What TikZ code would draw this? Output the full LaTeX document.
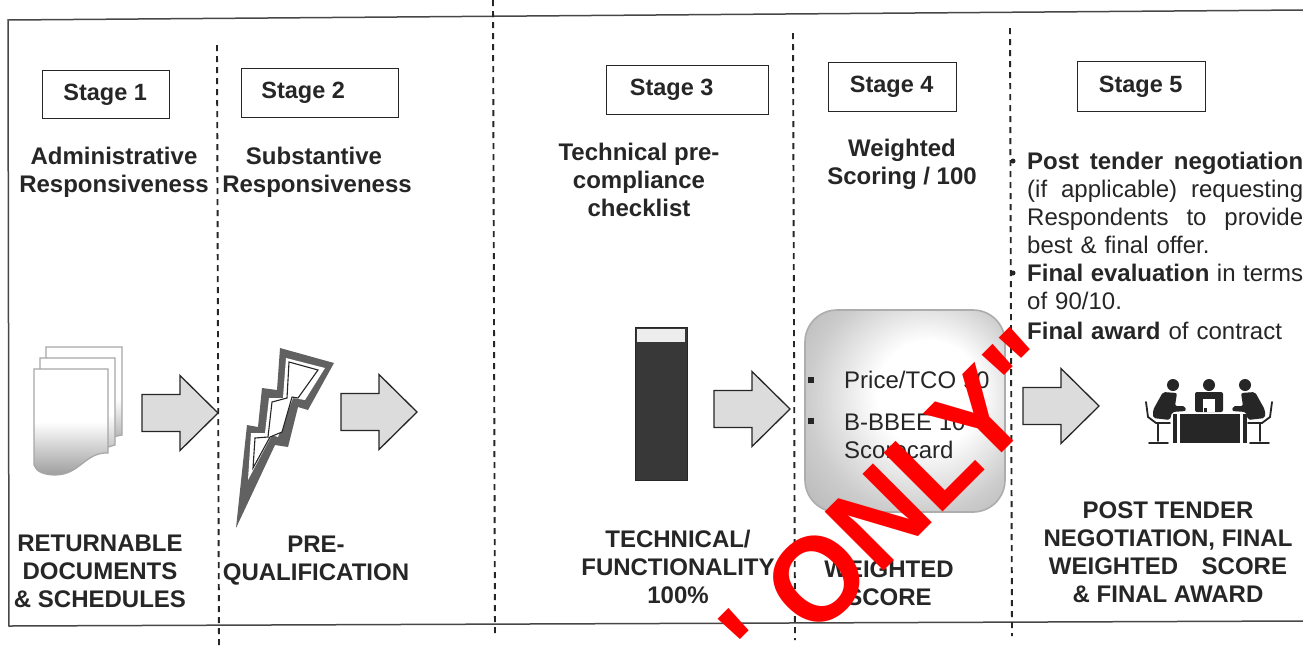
\documentclass[tikz,border=0pt]{standalone}
\usepackage{graphicx}
\usepackage{fontspec}
\setmainfont{Liberation Sans}
\newfontfamily\stampfont{Liberation Sans}
\definecolor{ink}{HTML}{262626}
\definecolor{arrowfill}{HTML}{DCDCDC}
\pgfdeclareradialshading{softbox}{\pgfpoint{8bp}{6bp}}{color(0bp)=(white); color(13bp)=(white); color(28bp)=(black!20); color(40bp)=(black!30); color(50bp)=(black!38)}
\tikzset{
  x=1pt,y=-1pt,
  framing/.style={draw=ink!85,line width=1.5pt},
  divider/.style={draw=ink,line width=1.9pt,dash pattern=on 6pt off 5pt},
  stagebox/.style={draw=ink,line width=1.4pt,fill=white,inner sep=0pt,font=\bfseries\fontsize{23.5}{28}\selectfont,text=ink,anchor=north west},
  head/.style={align=center,inner sep=0pt,font=\bfseries\fontsize{24}{28}\selectfont,text=ink},
  body/.style={inner sep=0pt,font=\fontsize{24}{28}\selectfont,text=ink},
  blockarrow/.style={draw=ink,line width=1.3pt,fill=arrowfill,line join=miter},
  page/.style={draw=black!35,line width=1.2pt,top color=white,bottom color=black!38,middle color=white},
  icon/.style={fill=ink,draw=none},
  chair/.style={draw=ink,line width=1.8pt,line cap=round},
  seal/.style={text=red,font=\stampfont\bfseries\fontsize{121}{121}\selectfont,inner sep=0pt}
}
\newcommand{\blockarrowat}[2]{% left x, tip y
  \draw[blockarrow] (#1,#2-18.5) -- (#1+38,#2-18.5) -- (#1+38,#2-37.5) -- (#1+76,#2) -- (#1+38,#2+37.5) -- (#1+38,#2+18.5) -- (#1,#2+18.5) -- cycle;}
\newcommand{\fullline}[1]{\makebox[276pt]{#1}}
\begin{document}
\begin{tikzpicture}
\useasboundingbox (0,0) rectangle (1303,649);
\fill[white] (0,0) rectangle (1303,649);
% frame
\draw[framing] (1303,10) -- (8,20) -- (9,626) -- (1303,621);
% stage boxes
\node[stagebox,minimum width=127pt,minimum height=48pt] (s1) at (42,70) {\raisebox{-2pt}{\hspace*{-2pt}Stage 1}};
\node[stagebox,minimum width=157pt,minimum height=49pt] (s2) at (241,68) {\raisebox{-2pt}{\hspace*{-34pt}Stage 2}};
\node[stagebox,minimum width=162pt,minimum height=49pt] (s3) at (606,65) {\raisebox{-2pt}{\hspace*{-32pt}Stage 3}};
\node[stagebox,minimum width=128pt,minimum height=49pt] (s4) at (828,62) {\raisebox{-2pt}{\hspace*{-2pt}Stage 4}};
\node[stagebox,minimum width=128pt,minimum height=50pt] (s5) at (1077,61) {\raisebox{-2pt}{\hspace*{-2pt}Stage 5}};
% headings
\node[head] (h1) at (114,172) {Administrative\\Responsiveness};
\node[head] (h2) at (317,172) {\hspace*{-6pt}Substantive\\Responsiveness};
\node[head] (h3) at (639,180) {Technical pre-\\compliance\\checklist};
\node[head] (h4) at (902,164) {Weighted\\Scoring / 100};
% stage 5 text
\node[body,anchor=north west,text width=276pt,align=left] (t5) at (1027,152) {%
  \fullline{\bfseries Post\hfill tender\hfill negotiation}\\
  \fullline{(if\hfill applicable)\hfill requesting}\\
  \fullline{Respondents\hfill to\hfill provide}\\
  best \& final offer.\\
  \fullline{{\bfseries Final\hfill evaluation}\hfill in\hfill terms}\\
  of 90/10.\\[2pt]
  {\bfseries Final award} of contract};
\fill[ink] (1013,161) circle (2.5);
\fill[ink] (1013,273) circle (2.5);
% documents icon
\draw[page] (46,347) -- (122,347) -- (122,435) .. controls (105,438) and (90,445) .. (70,450) -- (46,450) -- cycle;
\draw[page] (40,358) -- (115,358) -- (115,445) .. controls (95,450) and (75,465) .. (50,470) -- (40,460) -- cycle;
\draw[page] (34,369) -- (108,369) -- (108,453) .. controls (85,452) and (80,475) .. (55,475) .. controls (45,475) and (36,472) .. (34,465) -- cycle;
% lightning icon
\fill[black!62] (236,528) -- (247,425) -- (258,427) -- (262,388) -- (277,390) -- (280,348) -- (334,363) -- (308,410) -- (298,407) -- (288,447) -- (275,445) -- cycle;
\fill[white] (248,480) -- (251,433) -- (265,433) -- (269,398) -- (283,398) -- (286,358) -- (325,368) -- (305,400) -- (293,398) -- (278,437) -- (272,435) -- cycle;
\draw[ink,line width=1.1pt,fill=white] (253,468) -- (255,438) -- (268,437) -- (272,402) -- (287,398) -- (289,362) -- (318,370) -- (298,398) -- (292,397) -- (282,432) -- (270,437) -- cycle;
% technical bar
\fill[black!78,draw=ink,line width=1pt] (635,327) rectangle (687,480);
\fill[black!7] (637,329) rectangle (685,342);
% rounded score box
\draw[draw=black!32,line width=1.6pt,rounded corners=32pt,shading=softbox] (805,310) rectangle (1005,512);
\fill[ink] (808,377) rectangle (814,383);
\fill[ink] (808,418) rectangle (814,424);
\node[body,anchor=base west] (p1) at (844,388) {Price/TCO 90};
\node[body,anchor=base west] (p2) at (844,430) {B-BBEE 10};
\node[body,anchor=base west] (p3) at (844,458) {Scorecard};
% block arrows
\blockarrowat{142}{413}
\blockarrowat{341}{412}
\blockarrowat{714}{409}
\blockarrowat{1023}{406}
% meeting icon
\fill[icon] (1180,414) rectangle (1240,443);
\fill[icon] (1173,414) rectangle (1177,443);
\fill[icon] (1243,414) rectangle (1247,443);
\fill[icon] (1173,385) circle (6);
\fill[icon] (1209,385) circle (6);
\fill[icon] (1245,385) circle (6);
\fill[icon,rounded corners=2pt] (1195,392) rectangle (1223,412);
\fill[white] (1203,399) rectangle (1215,412);
\fill[icon] (1204,408) rectangle (1207,412);
\fill[icon,rounded corners=2pt] (1163,392) -- (1177,393) -- (1175,406) -- (1185,406) -- (1186,411) -- (1172,412) -- (1170,420) -- (1153,418) -- (1153,410) -- cycle;
\fill[icon,rounded corners=2pt] (1255,392) -- (1241,393) -- (1243,406) -- (1233,406) -- (1232,411) -- (1246,412) -- (1248,420) -- (1265,418) -- (1265,410) -- cycle;
\draw[chair] (1146,402) -- (1148,417) -- (1156,423) -- (1170,423);
\draw[chair] (1158,423) -- (1158,441);
\draw[chair] (1149,443) -- (1168,443);
\draw[chair] (1272,402) -- (1270,417) -- (1262,423) -- (1248,423);
\draw[chair] (1260,423) -- (1260,441);
\draw[chair] (1250,443) -- (1269,443);
% captions
\node[head] (c1) at (100,571) {RETURNABLE\\DOCUMENTS\\\& SCHEDULES};
\node[head] (c2) at (316,561) {PRE-\\QUALIFICATION};
\node[head] (c3) at (678,567) {TECHNICAL/\\FUNCTIONALITY\\100\%};
\node[head] (c4) at (889,583) {WEIGHTED\\SCORE};
\node[head] (c5) at (1168,552) {POST TENDER\\NEGOTIATION, FINAL\\WEIGHTED\hspace{0.7em} SCORE\\\& FINAL AWARD};
% dividers
\draw[divider] (217,45) -- (219,649);
\draw[divider] (493,0) -- (495,636);
\draw[divider] (793,33) -- (795,640);
\draw[divider] (1010,28) -- (1012,636);
% stamp
\begin{scope}
\clip (0,0) rectangle (1303,649);
\node[seal,rotate=45,anchor=base west] (stamp) at (772,683) {\scalebox{0.96}[1]{' ONLY"}};
\end{scope}
\end{tikzpicture}
\end{document}
